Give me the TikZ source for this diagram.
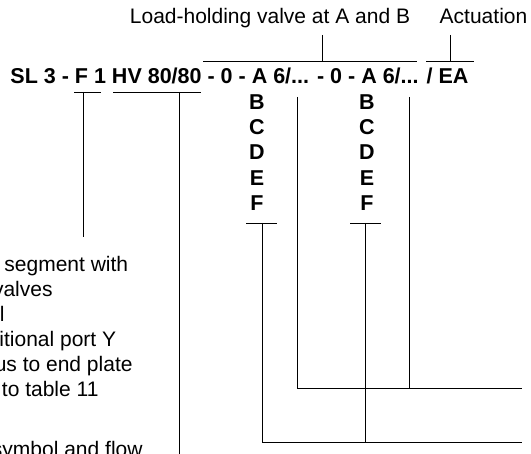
\documentclass[tikz,border=0pt]{standalone}
\usepackage{fontspec}
\setmainfont{Liberation Sans}
\usetikzlibrary{positioning}

\begin{document}
\begin{tikzpicture}[x=1pt,y=-1pt,line width=.9pt]
\tikzstyle{label}=[inner sep=0pt,font=\fontsize{21}{25}\selectfont]
\tikzstyle{code}=[inner sep=0pt,font=\fontsize{21.5}{25}\selectfont\bfseries]
\useasboundingbox (0,0) rectangle (531,454);
\clip (0,0) rectangle (531,454);
\node[code,anchor=base west] (type) at (10,83.3) {SL 3 - F 1 HV 80/80 - 0 - A 6/... - 0 - A 6/... / EA};
\node[label,anchor=base] (lhv) at (270,23.3) {Load-holding valve at A and B};
\node[label,anchor=base] (act) at (483.5,23.3) {Actuation};
\node[code,anchor=base] (b1) at (257,109.5) {B};
\node[code,below=25.5pt of b1.base,anchor=base] (c1) {C};
\node[code,below=25pt of c1.base,anchor=base] (d1) {D};
\node[code,below=25.5pt of d1.base,anchor=base] (e1) {E};
\node[code,below=25.5pt of e1.base,anchor=base] (f1) {F};
\node[code,anchor=base] (b2) at (367,109.5) {B};
\node[code,below=25.5pt of b2.base,anchor=base] (c2) {C};
\node[code,below=25pt of c2.base,anchor=base] (d2) {D};
\node[code,below=25.5pt of d2.base,anchor=base] (e2) {E};
\node[code,below=25.5pt of e2.base,anchor=base] (f2) {F};
\node[label,anchor=base west] (seg) at (4,272) {segment with};
\node[label,anchor=base east] (val) at (53,297) {valves};
\node[label,anchor=base west] (cut) at (-0.5,322) {l};
\node[label,anchor=base west] (port) at (-1,347) {itional port Y};
\node[label,anchor=base east] (plate) at (133,372) {us to end plate};
\node[label,anchor=base west] (tab) at (1.5,397) {to table 11};
\node[label,anchor=base east] (sym) at (143,457) {symbol and flow};
\coordinate (vl) at (203,61); \coordinate (vr) at (417,61);
\coordinate (vt) at (322,35); \coordinate (vm) at (322,61);
\coordinate (al) at (426,61); \coordinate (ar) at (474,61);
\coordinate (at) at (450,35); \coordinate (am) at (450,61);
\coordinate (fl) at (74,92); \coordinate (fr) at (101,92);
\coordinate (ft) at (83,92); \coordinate (fb) at (83,237);
\coordinate (hl) at (113,92); \coordinate (hr) at (201,92);
\coordinate (ht) at (179,92); \coordinate (hb) at (179,460);
\coordinate (s1l) at (246,223); \coordinate (s1r) at (277,223); \coordinate (s1) at (262,223);
\coordinate (s2l) at (350,223); \coordinate (s2r) at (381,223); \coordinate (s2) at (365,223);
\coordinate (p1) at (297,97); \coordinate (p2) at (409,97);
\coordinate (end1) at (522,442); \coordinate (end2) at (522,388);
\draw (vl)--(vr) (vt)--(vm);
\draw (al)--(ar) (at)--(am);
\draw (fl)--(fr) (ft)--(fb);
\draw (hl)--(hr) (ht)--(hb);
\draw (s1l)--(s1r) (s2l)--(s2r);
\draw (s1) |- (end1);
\draw (s2)--(s2 |- end1);
\draw (p1) |- (end2);
\draw (p2)--(p2 |- end2);
\end{tikzpicture}
\end{document}
